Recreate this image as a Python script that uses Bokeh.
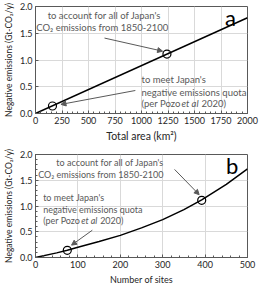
from bokeh.plotting import figure
from bokeh.layouts import column
from bokeh.models import Range1d, SingleIntervalTicker, Arrow, NormalHead, Label, PrintfTickFormatter
from bokeh.embed import file_html
from bokeh.resources import INLINE

# ---- data ----
area_x = [0, 2000]
area_y = [0, 1.79]
area_pts_x = [160, 1240]
area_pts_y = [0.14, 1.11]

sites_x = [0, 50, 75, 100, 150, 200, 250, 300, 350, 392, 450, 500]
sites_y = [0, 0.09, 0.14, 0.20, 0.31, 0.43, 0.575, 0.735, 0.93, 1.12, 1.42, 1.72]
sites_pts_x = [75, 392]
sites_pts_y = [0.14, 1.11]

FONT = "Lato"
TXT = "#595959"
GRID = "#d9d9d9"
FRAME = "#595959"


def style(p, xlabel, xlabel_size, minor_y):
    p.xgrid.grid_line_color = GRID
    p.ygrid.grid_line_color = GRID
    p.outline_line_color = FRAME
    p.outline_line_width = 1
    p.background_fill_color = "white"
    p.border_fill_color = "white"
    for ax in (p.xaxis[0], p.yaxis[0]):
        ax.axis_line_color = FRAME
        ax.major_tick_in = 3
        ax.major_tick_out = 0
        ax.major_tick_line_color = FRAME
        ax.minor_tick_in = 2
        ax.minor_tick_out = 0
        ax.minor_tick_line_color = FRAME
        ax.major_label_text_font = FONT
        ax.major_label_text_font_size = "9px"
        ax.major_label_text_color = "#262626"
        ax.axis_label_text_font = FONT
        ax.axis_label_text_font_style = "normal"
        ax.axis_label_text_color = "#262626"
        ax.major_label_standoff = 3
        ax.axis_label_standoff = 3
    p.xaxis.axis_label = xlabel
    p.xaxis.axis_label_text_font_size = xlabel_size
    p.yaxis.axis_label = "Negative emissions (Gt-CO\u2082/y)"
    p.yaxis.axis_label_text_font_size = "8.5px"
    p.yaxis.formatter = PrintfTickFormatter(format="%.1f")
    if not minor_y:
        p.yaxis.minor_tick_line_color = None


def lab(p, x, y, text, size, align="left", italic=False, color=TXT, dx=0):
    p.add_layout(Label(x=x, y=y, text=text, text_font=FONT, text_font_size=size,
                       text_color=color, text_align=align, text_baseline="middle",
                       x_offset=dx,
                       text_font_style="italic" if italic else "normal"))


def arrow(p, xs, ys, xe, ye):
    p.add_layout(Arrow(end=NormalHead(size=5, fill_color=TXT, line_color=TXT),
                       x_start=xs, y_start=ys, x_end=xe, y_end=ye,
                       line_color=TXT, line_width=1))


def pozo(p, x, y, size_px):
    s = f"{size_px}px"
    lab(p, x, y, "(per Pozo", s)
    lab(p, x, y, "et al", s, italic=True, dx=round(4.25 * size_px))
    lab(p, x, y, "2020)", s, dx=round(6.3 * size_px))


# ---- panel a ----
pa = figure(width=259, height=144, output_backend="svg", toolbar_location=None,
            x_range=Range1d(0, 2000), y_range=Range1d(0, 2.0),
            min_border_left=4, min_border_right=10, min_border_top=6, min_border_bottom=4)
pa.xaxis.ticker = SingleIntervalTicker(interval=250, num_minor_ticks=5)
pa.yaxis.ticker = SingleIntervalTicker(interval=0.5, num_minor_ticks=5)
style(pa, "Total area (km\u00b2)", "10.5px", False)
pa.line(area_x, area_y, line_color="black", line_width=1.5)
pa.scatter(area_pts_x, area_pts_y, size=8, fill_color=None, line_color="black", line_width=1.2)

lab(pa, 650, 1.83, "to account for all of Japan's", "9.5px", "center")
lab(pa, 630, 1.60, "CO\u2082 emissions from 1850-2100", "9.5px", "center")
lab(pa, 1000, 0.64, "to meet Japan's", "9.5px")
lab(pa, 1000, 0.40, "negative emissions quota", "9.5px")
pozo(pa, 1000, 0.18, 9.5)
lab(pa, 1840, 1.80, "a", "22px", "center", color="black")
arrow(pa, 651, 1.41, 1199, 1.165)
arrow(pa, 942, 0.43, 240, 0.17)

# ---- panel b ----
pb = figure(width=259, height=143, output_backend="svg", toolbar_location=None,
            x_range=Range1d(0, 500), y_range=Range1d(0, 2.0),
            min_border_left=4, min_border_right=12, min_border_top=10, min_border_bottom=4)
pb.xaxis.ticker = SingleIntervalTicker(interval=100, num_minor_ticks=5)
pb.yaxis.ticker = SingleIntervalTicker(interval=0.5, num_minor_ticks=5)
style(pb, "Number of sites", "9px", True)
pb.line(sites_x, sites_y, line_color="black", line_width=1.5)
pb.scatter(sites_pts_x, sites_pts_y, size=8, fill_color=None, line_color="black", line_width=1.2)

lab(pb, 176, 1.84, "to account for all of Japan's", "9px", "center")
lab(pb, 154, 1.62, "CO\u2082 emissions from 1850-2100", "9px", "center")
lab(pb, 18, 1.16, "to meet Japan's", "9px")
lab(pb, 18, 0.93, "negative emissions quota", "9px")
pozo(pb, 18, 0.71, 9)
lab(pb, 464, 1.78, "b", "22px", "center", color="black")
arrow(pb, 328, 1.71, 386, 1.22)
arrow(pb, 134, 0.53, 85, 0.24)

layout = column(pa, pb, spacing=0)
open("out.html", "w").write(file_html(layout, INLINE))
